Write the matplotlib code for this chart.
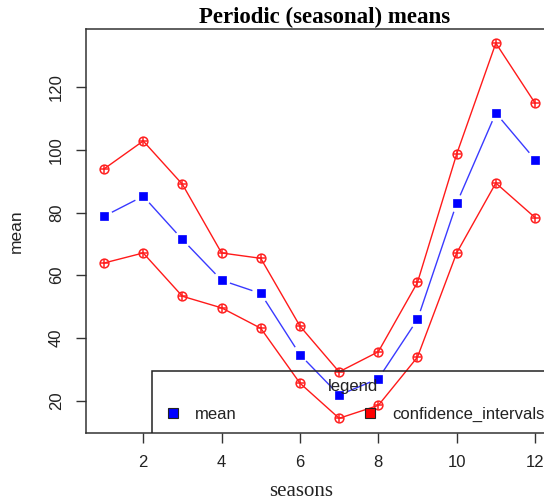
import matplotlib
matplotlib.use("Agg")
import matplotlib.pyplot as plt
import numpy as np
from matplotlib.patches import Rectangle

# Values
seasons = [1, 2, 3, 4, 5, 6, 7, 8, 9, 10, 11, 12]
mean_vals = [78.8, 85.2, 71.4, 58.4, 54.2, 34.7, 21.8, 27.0, 45.9, 82.9, 111.7, 96.9]
upper_ci = [93.9, 102.8, 89.0, 67.1, 65.4, 43.8, 29.2, 35.6, 57.7, 98.6, 134.0, 114.9]
lower_ci = [63.9, 67.1, 53.3, 49.6, 43.1, 25.6, 14.4, 18.5, 33.9, 67.1, 89.4, 78.4]
x_ticks = [2, 4, 6, 8, 10, 12]
y_ticks = [20, 40, 60, 80, 100, 120]

sans = ["Liberation Sans", "DejaVu Sans"]
serif = ["Liberation Serif", "DejaVu Serif"]
ink = "#222222"

fig = plt.figure(figsize=(5.44, 5.01), dpi=100)
ax = fig.add_axes([0.1581, 0.1357, 0.8585, 0.8070])
ax.set_xlim(0.54, 12.46)
ax.set_ylim(9.7, 138.6)

# mean line, R type="b" style: segments stop short of the points
gap = 9.5  # pixels
pts = ax.transData.transform(np.column_stack([seasons, mean_vals]))
inv = ax.transData.inverted()
for p0, p1 in zip(pts[:-1], pts[1:]):
    d = p1 - p0
    n = np.hypot(*d)
    if n <= 2 * gap:
        continue
    u = d / n
    a, b = inv.transform([p0 + u * gap, p1 - u * gap])
    ax.plot([a[0], b[0]], [a[1], b[1]], color="#3a3aff", lw=1.0, zorder=1)
ax.plot(seasons, mean_vals, ls="none", marker="s", ms=5.8,
        mfc="#0000ff", mec="#0000ff", mew=0.5, zorder=3)

# confidence intervals, R type="o" with pch=10
for ci in (upper_ci, lower_ci):
    ax.plot(seasons, ci, color="#ff1a1a", lw=1.0, zorder=4)
    ax.plot(seasons, ci, ls="none", marker="o", ms=6.3, mfc="none",
            mec="#ff2020", mew=1.1, zorder=5)
    ax.plot(seasons, ci, ls="none", marker="+", ms=6.3,
            mec="#ff2020", mew=1.1, zorder=5)

ax.set_xticks(x_ticks)
ax.set_yticks(y_ticks)
ax.set_xticklabels([str(t) for t in x_ticks], family=sans, fontsize=12, color=ink)
ax.set_yticklabels([str(t) for t in y_ticks], family=sans, fontsize=12, color=ink,
                   rotation=90, va="center")
ax.tick_params(axis="both", direction="out", length=7, width=1, color="#333333")
ax.tick_params(axis="x", pad=9)
ax.tick_params(axis="y", pad=9)
for sp in ax.spines.values():
    sp.set_color("#333333")
    sp.set_linewidth(1.1)

# legend drawn by hand, R style (box clipped by the plot region)
leg_box = Rectangle((0.1407, -0.01), 1.2, 0.164, transform=ax.transAxes,
                    fill=False, edgecolor="#222222", lw=1.1, zorder=6, clip_on=True)
ax.add_patch(leg_box)
ax.text(0.5717, 0.1039, "legend", transform=ax.transAxes, ha="center",
        va="baseline", family=sans, fontsize=12, color=ink, zorder=7)
ax.plot([0.187], [0.0502], transform=ax.transAxes, marker="s", ms=7.5,
        mfc="#0000ff", mec="#222222", mew=0.8, zorder=7)
ax.text(0.2334, 0.0339, "mean", transform=ax.transAxes, ha="left",
        va="baseline", family=sans, fontsize=12, color=ink, zorder=7)
ax.plot([0.608], [0.0502], transform=ax.transAxes, marker="s", ms=7.5,
        mfc="#ff0000", mec="#222222", mew=0.8, zorder=7, clip_on=False)
ax.text(0.655, 0.0339, "confidence_intervals", transform=ax.transAxes, ha="left",
        va="baseline", family=sans, fontsize=12, color=ink, zorder=7)

fig.text(325 / 544, 1 - 17 / 501, "Periodic (seasonal) means", ha="center",
         va="center", family=serif, fontweight="bold", fontsize=16.5, color="black")
fig.text(301 / 544, 1 - 492 / 501, "seasons", ha="center", va="center",
         family=serif, fontsize=15, color=ink)
fig.text(16 / 544, 1 - 231 / 501, "mean", ha="center", va="center",
         rotation=90, family=sans, fontsize=12.5, color=ink)

fig.savefig("out.png", dpi=100)
